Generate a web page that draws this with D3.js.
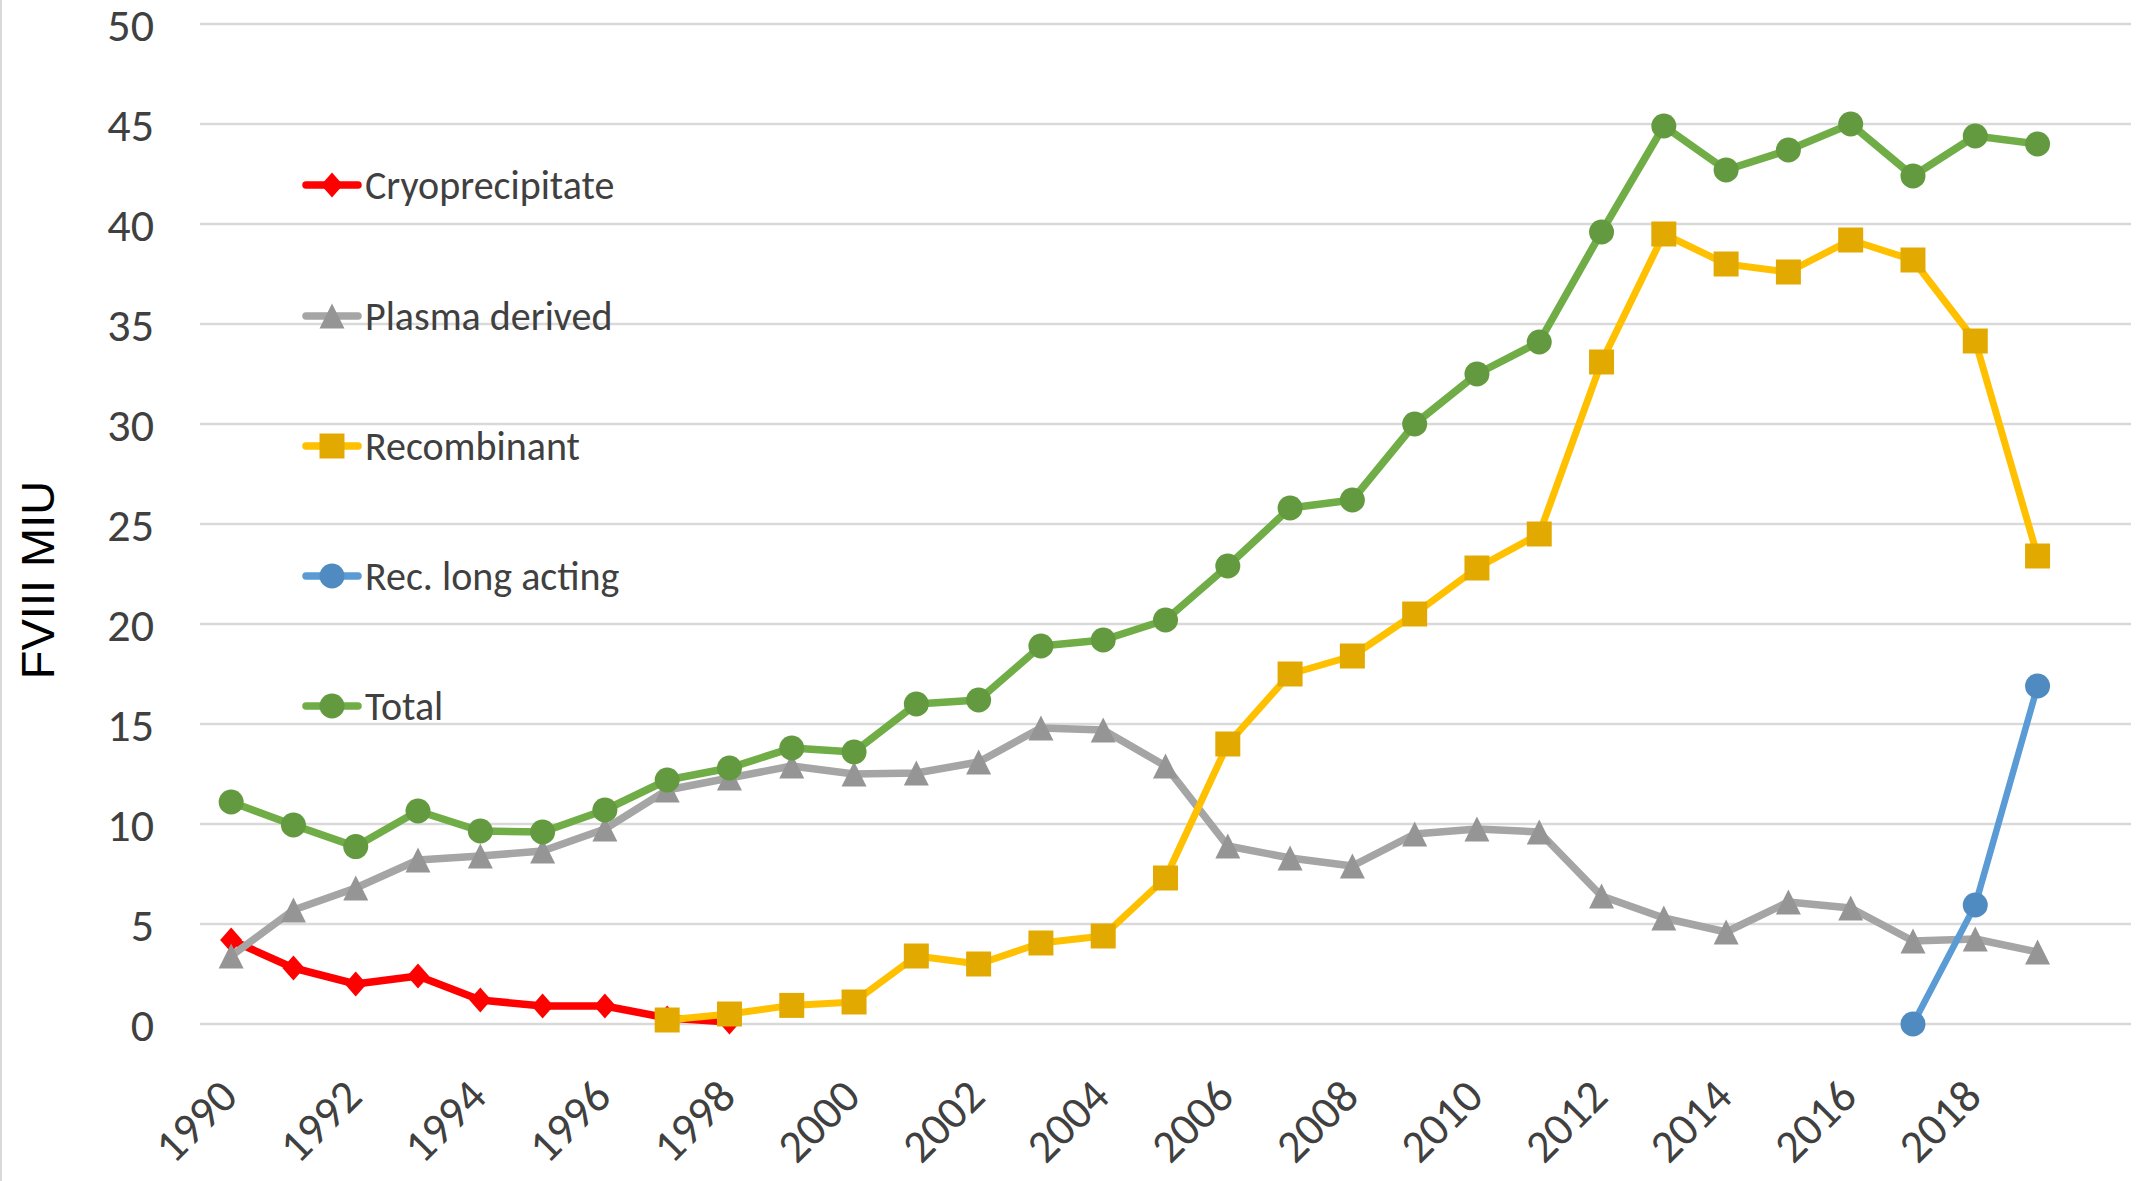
<!DOCTYPE html>
<html>
<head>
<meta charset="utf-8">
<script src="https://cdn.jsdelivr.net/npm/d3@7"></script>
<style>
  html, body { margin: 0; padding: 0; background: #fff; }
  svg { display: block; }
</style>
</head>
<body>
<svg id="chart" width="2138" height="1181"></svg>
<script>
// ---- data ----
const years = d3.range(1990, 2020);
const tickYears = [1990, 1992, 1994, 1996, 1998, 2000, 2002, 2004, 2006, 2008, 2010, 2012, 2014, 2016, 2018];
const yTicks = [0, 5, 10, 15, 20, 25, 30, 35, 40, 45, 50];

const cryoprecipitate = [4.2, 2.8, 2.0, 2.4, 1.2, 0.9, 0.9, 0.3, 0.1,
  null, null, null, null, null, null, null, null, null, null, null, null,
  null, null, null, null, null, null, null, null, null];
const plasmaDerived = [3.4, 5.7, 6.8, 8.2, 8.4, 8.65, 9.75, 11.7, 12.3, 12.9,
  12.5, 12.55, 13.1, 14.8, 14.7, 12.9, 8.9, 8.3, 7.9, 9.5,
  9.75, 9.6, 6.4, 5.3, 4.6, 6.1, 5.8, 4.15, 4.25, 3.6];
const recombinant = [null, null, null, null, null, null, null, 0.2, 0.5, 0.93,
  1.1, 3.4, 3.0, 4.05, 4.4, 7.3, 14.0, 17.5, 18.4, 20.5,
  22.8, 24.5, 33.1, 39.5, 38.0, 37.6, 39.2, 38.2, 34.15, 23.4];
const recLongActing = [null, null, null, null, null, null, null, null, null, null,
  null, null, null, null, null, null, null, null, null, null,
  null, null, null, null, null, null, null, 0, 5.95, 16.9];
const total = [11.1, 9.95, 8.87, 10.65, 9.65, 9.6, 10.7, 12.2, 12.8, 13.8,
  13.6, 16.0, 16.2, 18.9, 19.2, 20.2, 22.9, 25.8, 26.2, 30.0,
  32.5, 34.1, 39.6, 44.9, 42.7, 43.7, 45.0, 42.4, 44.4, 44.0];

const seriesNames = ["Cryoprecipitate", "Plasma derived", "Recombinant", "Rec. long acting", "Total"];
const seriesValues = [cryoprecipitate, plasmaDerived, recombinant, recLongActing, total];

// ---- styles ----
const styles = [
  { line: "#FF0000", marker: "#FF0000", width: 7.5, shape: "diamond" },
  { line: "#A5A5A5", marker: "#959595", width: 7.5, shape: "triangle" },
  { line: "#FFC000", marker: "#E2AA00", width: 7, shape: "square" },
  { line: "#5B9BD5", marker: "#4F8BC0", width: 6.5, shape: "circle" },
  { line: "#70AD47", marker: "#63993F", width: 7.5, shape: "circle" }
];

const svg = d3.select("#chart");
const W = 2138, H = 1181;
const plot = { left: 200, right: 2131, top: 24, bottom: 1024 };

const x = d3.scaleLinear().domain([1989.5, 2020.5]).range([plot.left, plot.right]);
const y = d3.scaleLinear().domain([0, 50]).range([plot.bottom, plot.top]);

const FONT = "Carlito, Calibri, Lato, sans-serif";

// outer border (left edge)
svg.append("line").attr("x1", 1).attr("x2", 1).attr("y1", 0).attr("y2", H)
  .attr("stroke", "#D9D9D9").attr("stroke-width", 2);

// gridlines
svg.append("g").selectAll("line").data(yTicks).join("line")
  .attr("x1", plot.left).attr("x2", plot.right)
  .attr("y1", d => y(d)).attr("y2", d => y(d))
  .attr("stroke", "#D9D9D9").attr("stroke-width", 2.5);

// y axis labels via d3 axis
const yAxis = d3.axisLeft(y).tickValues(yTicks).tickSize(0).tickPadding(0);
const gy = svg.append("g").attr("transform", `translate(154,0)`).call(yAxis);
gy.select(".domain").remove();
gy.selectAll("text").attr("font-family", FONT).attr("font-size", 46)
  .attr("fill", "#404040").attr("dy", "0.36em");

// x axis labels via d3 axis
const xAxis = d3.axisBottom(x).tickValues(tickYears).tickFormat(d3.format("d")).tickSize(0);
const gx = svg.append("g").attr("transform", `translate(0,${plot.bottom})`).call(xAxis);
gx.select(".domain").remove();
gx.selectAll("text")
  .attr("font-family", FONT).attr("font-size", 46).attr("fill", "#404040")
  .attr("text-anchor", "end").attr("y", 0).attr("dy", 0)
  .attr("transform", "translate(8,75) rotate(-45)");

// y axis title
svg.append("text")
  .attr("transform", "translate(54,580) rotate(-90)")
  .attr("text-anchor", "middle")
  .attr("font-family", "Liberation Sans, Arial, sans-serif")
  .attr("font-size", 47).attr("fill", "#000")
  .text("FVIII MIU");

// marker path generator
function markerPath(shape) {
  const p = d3.path();
  if (shape === "diamond") {
    p.moveTo(0, -12.5); p.lineTo(11, 0); p.lineTo(0, 12.5); p.lineTo(-11, 0); p.closePath();
  } else if (shape === "triangle") {
    p.moveTo(0, -12.5); p.lineTo(12.5, 12.5); p.lineTo(-12.5, 12.5); p.closePath();
  } else if (shape === "square") {
    p.rect(-12.5, -12.5, 25, 25);
  } else {
    p.arc(0, 0, 12.5, 0, 2 * Math.PI);
  }
  return p.toString();
}

// series
const lineGen = d3.line()
  .defined(d => d.v !== null)
  .x(d => x(d.year)).y(d => y(d.v));

seriesValues.forEach((vals, i) => {
  const st = styles[i];
  const data = years.map((yr, k) => ({ year: yr, v: vals[k] }));
  const g = svg.append("g");
  g.append("path").datum(data)
    .attr("d", lineGen)
    .attr("fill", "none").attr("stroke", st.line)
    .attr("stroke-width", st.width)
    .attr("stroke-linejoin", "round").attr("stroke-linecap", "round");
  g.selectAll("path.m").data(data.filter(d => d.v !== null)).join("path")
    .attr("class", "m")
    .attr("d", markerPath(st.shape))
    .attr("transform", d => `translate(${x(d.year)},${y(d.v)})`)
    .attr("fill", st.marker);
});

// legend
const legendY = [185, 316, 446, 576, 706];
const lg = svg.append("g");
seriesNames.forEach((name, i) => {
  const st = styles[i];
  const gy0 = legendY[i];
  lg.append("line").attr("x1", 306).attr("x2", 358).attr("y1", gy0).attr("y2", gy0)
    .attr("stroke", st.line).attr("stroke-width", 7.5)
    .attr("stroke-linecap", "round");
  lg.append("path").attr("d", markerPath(st.shape))
    .attr("transform", `translate(332,${gy0})`).attr("fill", st.marker);
  lg.append("text").attr("x", 365).attr("y", gy0).attr("dy", "0.36em")
    .attr("font-family", FONT).attr("font-size", 40).attr("fill", "#404040")
    .text(name);
});
</script>
</body>
</html>
